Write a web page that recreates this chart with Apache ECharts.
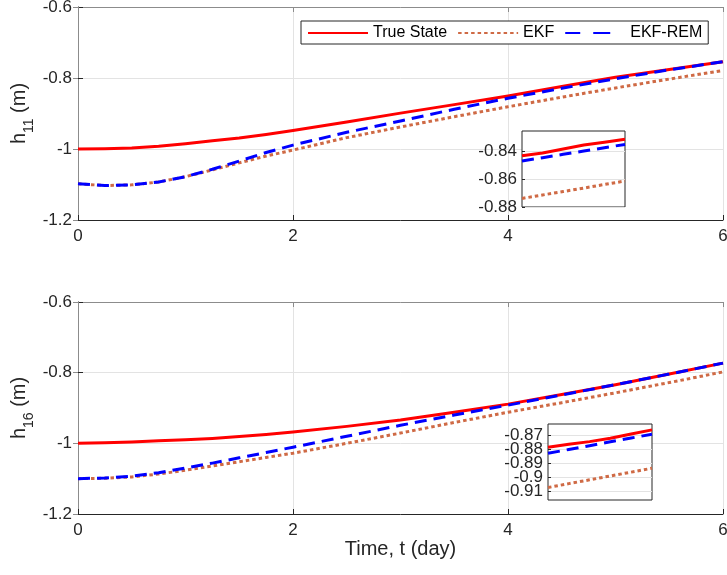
<!DOCTYPE html>
<html>
<head>
<meta charset="utf-8">
<script src="https://cdn.jsdelivr.net/npm/echarts@6/dist/echarts.min.js"></script>
<style>html,body{margin:0;padding:0;background:#fff}#c{width:727px;height:575px}</style>
</head>
<body>
<div id="c"></div>
<script>
// ---- data ----
var t = [0, 0.25, 0.5, 0.75, 1, 1.25, 1.5, 1.75, 2, 2.5, 3, 3.5, 4, 4.5, 5, 5.5, 6];
var xTicks = [0, 2, 4, 6];
var yTicks = [-1.2, -1.0, -0.8, -0.6];
var seriesNames = ['True State', 'EKF', 'EKF-REM'];

var true11 = [-1.000, -0.999, -0.997, -0.992, -0.985, -0.977, -0.969, -0.959, -0.948, -0.924, -0.899, -0.875, -0.851, -0.824, -0.798, -0.776, -0.754];
var ekf11  = [-1.098, -1.103, -1.101, -1.093, -1.078, -1.059, -1.039, -1.020, -1.003, -0.968, -0.938, -0.909, -0.881, -0.854, -0.828, -0.803, -0.779];
var rem11  = [-1.098, -1.103, -1.101, -1.093, -1.078, -1.057, -1.034, -1.010, -0.989, -0.953, -0.921, -0.888, -0.857, -0.829, -0.802, -0.777, -0.754];

var true16 = [-1.000, -0.998, -0.996, -0.993, -0.990, -0.986, -0.981, -0.975, -0.968, -0.952, -0.934, -0.912, -0.889, -0.862, -0.834, -0.804, -0.773];
var ekf16  = [-1.100, -1.099, -1.095, -1.087, -1.076, -1.064, -1.052, -1.040, -1.028, -1.000, -0.971, -0.941, -0.912, -0.885, -0.857, -0.828, -0.798];
var rem16  = [-1.100, -1.098, -1.093, -1.083, -1.070, -1.056, -1.041, -1.026, -1.011, -0.980, -0.949, -0.920, -0.892, -0.863, -0.834, -0.804, -0.773];

// zoomed insets
var tIn = [4.15, 4.20, 4.25, 4.30, 4.35, 4.40];
var inTrue11 = [-0.8429, -0.8409, -0.8380, -0.8351, -0.8332, -0.8310];
var inRem11  = [-0.8467, -0.8443, -0.8419, -0.8395, -0.8371, -0.8347];
var inEkf11  = [-0.8738, -0.8713, -0.8688, -0.8663, -0.8637, -0.8612];
var inTicks11 = [-0.88, -0.86, -0.84];

var inTrue16 = [-0.8783, -0.8762, -0.8743, -0.8719, -0.8688, -0.8659];
var inRem16  = [-0.8826, -0.8799, -0.8772, -0.8744, -0.8717, -0.8690];
var inEkf16  = [-0.9071, -0.9043, -0.9016, -0.8988, -0.8961, -0.8933];
var inTicks16 = [-0.91, -0.9, -0.89, -0.88, -0.87];

function pairs(xs, ys) { return xs.map(function (x, i) { return [x, ys[i]]; }); }

var AX = '#262626', BOX = '#8c8c8c', GRID = '#e3e3e3';
var FONT = 'Liberation Sans';
var TICKFS = 17;
var styles = {
  'True State': { color: '#ff0000', width: 3, type: 'solid' },
  'EKF': { color: '#cf6a45', width: 3, type: [3.5, 3] },
  'EKF-REM': { color: '#0000ff', width: 3, type: [12, 7] }
};

function mkSeries(name, data, xi, yi, z) {
  var s = styles[name];
  return {
    type: 'line', name: name, data: data, xAxisIndex: xi, yAxisIndex: yi,
    symbol: 'none', showSymbol: false, z: z, silent: true,
    lineStyle: { color: s.color, width: s.width, type: s.type, cap: 'butt', join: 'round' },
    itemStyle: { color: s.color }
  };
}

var rich = {
  a: { fontSize: 20, fontFamily: FONT, color: AX, lineHeight: 23, verticalAlign: 'top' },
  s: { fontSize: 14, fontFamily: FONT, color: AX, lineHeight: 14, padding: [13, 0, 0, 0], verticalAlign: 'top' }
};

function mainX(gi) {
  return [{
    type: 'value', gridIndex: gi, min: 0, max: 6, interval: 2, position: 'bottom',
    axisLine: { show: true, lineStyle: { color: AX, width: 1 } },
    axisTick: { show: true, inside: true, length: 5, lineStyle: { color: AX } },
    axisLabel: { fontSize: TICKFS, fontFamily: FONT, color: AX, margin: 8 },
    splitLine: { show: true, lineStyle: { color: GRID, width: 1 } },
    name: gi === 1 ? 'Time, t (day)' : '', nameLocation: 'middle', nameGap: 25,
    nameTextStyle: { fontSize: 20, fontFamily: FONT, color: AX }
  }, {
    type: 'value', gridIndex: gi, min: 0, max: 6, interval: 2, position: 'top',
    axisLine: { show: true, lineStyle: { color: BOX, width: 1 } },
    axisTick: { show: true, inside: true, length: 5, lineStyle: { color: BOX } },
    axisLabel: { show: false }, splitLine: { show: false }
  }];
}
function mainY(gi, sub) {
  return [{
    type: 'value', gridIndex: gi, min: -1.2, max: -0.6, interval: 0.2, position: 'left',
    axisLine: { show: true, lineStyle: { color: AX, width: 1 } },
    axisTick: { show: true, inside: true, length: 5, lineStyle: { color: AX } },
    axisLabel: { fontSize: TICKFS, fontFamily: FONT, color: AX, margin: 6 },
    splitLine: { show: true, lineStyle: { color: GRID, width: 1 } },
    name: '{a|h}{s|' + sub + '}{a| (m)}', nameLocation: 'middle', nameGap: 46, nameRotate: 90,
    nameMoveOverlap: false,
    nameTextStyle: { rich: rich }
  }, {
    type: 'value', gridIndex: gi, min: -1.2, max: -0.6, interval: 0.2, position: 'right',
    axisLine: { show: true, lineStyle: { color: BOX, width: 1 } },
    axisTick: { show: true, inside: true, length: 5, lineStyle: { color: BOX } },
    axisLabel: { show: false }, splitLine: { show: false }
  }];
}
function insetX(gi) {
  return { type: 'value', gridIndex: gi, min: tIn[0], max: tIn[tIn.length - 1], show: false, z: 11 };
}
function insetY(gi, mn, mx, ticks, labelVals, withGrid) {
  return {
    type: 'value', gridIndex: gi, min: mn, max: mx, position: 'left', offset: 0, z: 11,
    axisLine: { show: false },
    axisTick: { show: withGrid, inside: true, length: 3, lineStyle: { color: AX }, customValues: ticks },
    axisLabel: { fontSize: TICKFS, fontFamily: FONT, color: AX, margin: 5, customValues: labelVals,
      showMinLabel: true, showMaxLabel: true, hideOverlap: false },
    splitLine: { show: withGrid, lineStyle: { color: GRID, width: 1 } }
  };
}

var option = {
  animation: false,
  backgroundColor: '#fff',
  legend: {
    left: 301, top: 21, z: 30,
    padding: [4, 6, 3, 6], itemGap: 10, itemWidth: 60, itemHeight: 16,
    backgroundColor: '#fff', borderColor: AX, borderWidth: 1, borderRadius: 0,
    textStyle: { fontSize: 16, fontFamily: FONT, color: '#000' },
    itemStyle: { opacity: 0 },
    data: [
      { name: 'True State' },
      { name: 'EKF' },
      { name: 'EKF-REM', lineStyle: { type: [15, 13, 17, 20] } }
    ],
    selectedMode: false
  },
  grid: [
    { left: 78, top: 7, width: 645, height: 213, outerBoundsMode: 'none', containLabel: false },
    { left: 78, top: 302, width: 645, height: 212, outerBoundsMode: 'none', containLabel: false },
    { left: 522, top: 131, width: 103, height: 76, outerBoundsMode: 'none', show: true, backgroundColor: '#fff', borderColor: AX, borderWidth: 1, z: 10 },
    { left: 548, top: 424, width: 104, height: 76, outerBoundsMode: 'none', show: true, backgroundColor: '#fff', borderColor: AX, borderWidth: 1, z: 10 }
  ],
  xAxis: mainX(0).concat(mainX(1)).concat([insetX(2), insetX(3)]),
  yAxis: mainY(0, '11').concat(mainY(1, '16')).concat([
    insetY(2, -0.88, -0.825, inTicks11, inTicks11, true),
    insetY(3, -0.916, -0.8617, inTicks16, inTicks16.filter(function (v, i) { return i % 2 === 0; }), true),
    insetY(3, -0.916, -0.8617, inTicks16, inTicks16.filter(function (v, i) { return i % 2 === 1; }), false)
  ]),
  series: [
    mkSeries('True State', pairs(t, true11), 0, 0, 2),
    mkSeries('EKF', pairs(t, ekf11), 0, 0, 2),
    mkSeries('EKF-REM', pairs(t, rem11), 0, 0, 2),
    mkSeries('True State', pairs(t, true16), 2, 2, 2),
    mkSeries('EKF', pairs(t, ekf16), 2, 2, 2),
    mkSeries('EKF-REM', pairs(t, rem16), 2, 2, 2),
    mkSeries('True State', pairs(tIn, inTrue11), 4, 4, 12),
    mkSeries('EKF', pairs(tIn, inEkf11), 4, 4, 12),
    mkSeries('EKF-REM', pairs(tIn, inRem11), 4, 4, 12),
    mkSeries('True State', pairs(tIn, inTrue16), 5, 5, 12),
    mkSeries('EKF', pairs(tIn, inEkf16), 5, 5, 12),
    mkSeries('EKF-REM', pairs(tIn, inRem16), 5, 5, 12)
  ]
};
var chart = echarts.init(document.getElementById('c'), null, { renderer: 'canvas' });
chart.setOption(option);
</script>
</body>
</html>
